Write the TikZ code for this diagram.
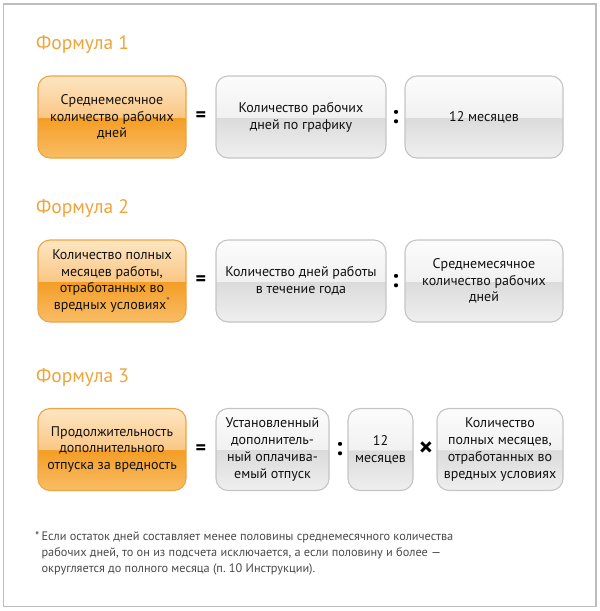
\documentclass[tikz,border=0pt]{standalone}
\usepackage{fontspec}
\setmainfont{PT Sans}
\usepackage{tikz}

\definecolor{titleorange}{HTML}{EFA33A}
\definecolor{oborder}{HTML}{EBA445}
\definecolor{otop}{HTML}{FDE6C2}
\definecolor{ohigh}{HTML}{FAC786}
\definecolor{olow}{HTML}{F49D24}
\definecolor{obot}{HTML}{F9BD66}
\definecolor{gborder}{HTML}{C4C4C4}
\definecolor{gtop}{HTML}{FCFCFC}
\definecolor{ghigh}{HTML}{F1F1F1}
\definecolor{glow}{HTML}{DBDBDB}
\definecolor{gbot}{HTML}{EFEFEF}
\definecolor{framegray}{HTML}{BDBDBD}
\definecolor{boxtext}{HTML}{111111}
\definecolor{notegray}{HTML}{4A4A4A}

\pgfdeclareverticalshading{orangeshade}{100bp}{color(0bp)=(obot); color(25bp)=(obot);
  color(49.8bp)=(olow); color(50bp)=(ohigh); color(75bp)=(otop); color(100bp)=(otop)}
\pgfdeclareverticalshading{grayshade}{100bp}{color(0bp)=(gbot); color(25bp)=(gbot);
  color(49.8bp)=(glow); color(50bp)=(ghigh); color(75bp)=(gtop); color(100bp)=(gtop)}

\begin{document}
\begin{tikzpicture}
    [
        x=1pt,
        y=-1pt,
        inner sep=0pt,
        frame/.style={draw=framegray, line width=1.5pt},
        formula title/.style={anchor=west, text=titleorange, font=\fontsize{19.5}{22}\selectfont},
        box/.style={rounded corners=12pt, line width=1.1pt, shade, minimum height=82pt,
                    align=center, text=boxtext, font=\fontsize{14}{16.8}\selectfont},
        result box/.style={box, draw=oborder, shading=orangeshade, minimum width=148pt},
        term box/.style={box, draw=gborder, shading=grayshade},
        op/.style={text=black, font=\bfseries\fontsize{20}{20}\selectfont},
        op div/.style={op, font=\bfseries\fontsize{26}{26}\selectfont},
        op times/.style={op, font=\bfseries\fontsize{27}{27}\selectfont},
        footnote/.style={anchor=north west, align=left, text=notegray,
                         font=\fontsize{12.3}{16}\selectfont}
    ]
    \useasboundingbox (0,0) rectangle (600,611);
    \draw [frame] (3.5,4) rectangle (596,606.5);

    % Formula 1
    \node (title 1) [formula title] at (36,44) {Формула 1};
    \node (f1 result)
          [result box] at (112,117)
          {Среднемесячное\\количество рабочих\\дней};
    \node (f1 eq)
          [op, right of=f1 result, node distance=89pt]
          {=};
    \node (f1 days)
          [term box, minimum width=170pt, right of=f1 result, node distance=189pt]
          {Количество рабочих\\дней по графику};
    \node (f1 div)
          [op div, right of=f1 days, node distance=94pt]
          {:};
    \node (f1 months)
          [term box, minimum width=158pt, right of=f1 days, node distance=183pt]
          {12 месяцев};

    % Formula 2
    \node (title 2) [formula title] at (36,208) {Формула 2};
    \node (f2 result)
          [result box] at (112,281)
          {Количество полных\\месяцев работы,\\отработанных во\\вредных условиях{\color{notegray}\textsuperscript{*}}};
    \node (f2 eq)
          [op, right of=f2 result, node distance=89pt]
          {=};
    \node (f2 days)
          [term box, minimum width=170pt, right of=f2 result, node distance=189pt]
          {Количество дней работы\\в течение года};
    \node (f2 div)
          [op div, right of=f2 days, node distance=94pt]
          {:};
    \node (f2 average)
          [term box, minimum width=158pt, right of=f2 days, node distance=183pt]
          {Среднемесячное\\количество рабочих\\дней};

    % Formula 3
    \node (title 3) [formula title] at (36,377) {Формула 3};
    \node (f3 result)
          [result box] at (112,449.5)
          {Продолжительность\\дополнительного\\отпуска за вредность};
    \node (f3 eq)
          [op, right of=f3 result, node distance=89pt]
          {=};
    \node (f3 leave)
          [term box, minimum width=113pt, right of=f3 result, node distance=160.5pt]
          {Установленный\\дополнитель-\\ный оплачива-\\емый отпуск};
    \node (f3 div)
          [op div, right of=f3 leave, node distance=66.5pt]
          {:};
    \node (f3 months)
          [term box, minimum width=65pt, right of=f3 leave, node distance=108pt]
          {12\\месяцев};
    \node (f3 times)
          [op times, right of=f3 months, node distance=45.5pt]
          {×};
    \node (f3 full)
          [term box, minimum width=126pt, right of=f3 months, node distance=119.5pt]
          {Количество\\полных месяцев,\\отработанных во\\вредных условиях};

    % footnote
    \node (note) [footnote] at (35,531)
          {*\,Если остаток дней составляет менее половины среднемесячного количества\\
           \hphantom{*\,}рабочих дней, то он из подсчета исключается, а если половину и более~—\\
           \hphantom{*\,}округляется до полного месяца (п.~10 Инструкции).};
\end{tikzpicture}
\end{document}
